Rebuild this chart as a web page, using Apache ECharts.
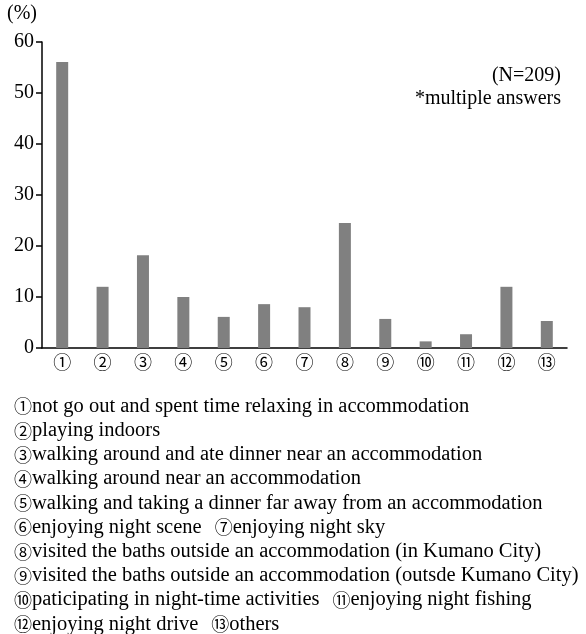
<!DOCTYPE html>
<html><head><meta charset="utf-8">
<script src="https://cdn.jsdelivr.net/npm/echarts@6/dist/echarts.min.js"></script>
<style>html,body{margin:0;padding:0;background:#fff}#c{width:586px;height:634px}</style>
</head><body><div id="c"></div>
<script>
var categories = ['①','②','③','④','⑤','⑥','⑦','⑧','⑨','⑩','⑪','⑫','⑬'];
var values = [56.1, 12.0, 18.2, 10.0, 6.1, 8.6, 8.0, 24.5, 5.7, 1.3, 2.7, 12.0, 5.3];
var yTicks = [0, 10, 20, 30, 40, 50, 60];
// each legend line: list of [circled number, description]
var legendLines = [
  [['①','not go out and spent time relaxing in accommodation']],
  [['②','playing indoors']],
  [['③','walking around and ate dinner near an accommodation']],
  [['④','walking around near an accommodation']],
  [['⑤','walking and taking a dinner far away from an accommodation']],
  [['⑥','enjoying night scene'], ['⑦','enjoying night sky']],
  [['⑧','visited the baths outside an accommodation (in Kumano City)']],
  [['⑨','visited the baths outside an accommodation (outsde Kumano City)']],
  [['⑩','paticipating in night-time activities'], ['⑪','enjoying night fishing']],
  [['⑫','enjoying night drive'], ['⑬','others']]
];
var notes = ['(N=209)', '*multiple answers'];
var unitLabel = '(%)';

var serif = "'Liberation Serif', 'Times New Roman', serif";
var circFont = "'Noto Sans CJK JP', 'DejaVu Sans', sans-serif";
var chart = echarts.init(document.getElementById('c'));
var graphics = [];
graphics.push({type:'text', left: 7, top: 4, style:{text: unitLabel, font: '20px ' + serif, fill:'#000'}});
notes.forEach(function(t, i){
  graphics.push({type:'text', right: 25, top: 66 + i*22.5, style:{text: t, font: '20px ' + serif, fill:'#000', textAlign:'right'}});
});
legendLines.forEach(function(parts, i){
  var txt = parts.map(function(p){ return '{c|' + p[0] + '}{t|' + p[1] + '}'; }).join('{s|\u2003}');
  graphics.push({type:'text', left: 14, top: 396 + i*24.2, style:{
    text: txt, fill:'#000',
    rich: {
      c: {fontFamily: circFont, fontSize: 18, fill: '#000'},
      t: {fontFamily: serif, fontSize: 20.5, fill: '#000'},
      s: {fontFamily: serif, fontSize: 13, fill: '#000'}
    }
  }});
});
chart.setOption({
  animation: false,
  grid: {left: 42, right: 19, top: 42, bottom: 286, containLabel: false},
  xAxis: {
    type: 'category', data: categories,
    axisLine: {lineStyle: {color: '#000', width: 1.5}},
    axisTick: {show: false},
    axisLabel: {color: '#000', fontSize: 18, fontFamily: circFont, margin: 5}
  },
  yAxis: {
    type: 'value', min: yTicks[0], max: yTicks[yTicks.length-1], interval: 10,
    splitLine: {show: false},
    axisLine: {show: true, lineStyle: {color: '#000', width: 1.5}},
    axisTick: {show: true, inside: false, length: 6, lineStyle: {color: '#000', width: 1.5}},
    axisLabel: {color: '#000', fontSize: 20, fontFamily: serif, margin: 8}
  },
  series: [{
    type: 'bar', data: values, barWidth: 12,
    itemStyle: {color: '#808080'}
  }],
  graphic: graphics
});
</script></body></html>
